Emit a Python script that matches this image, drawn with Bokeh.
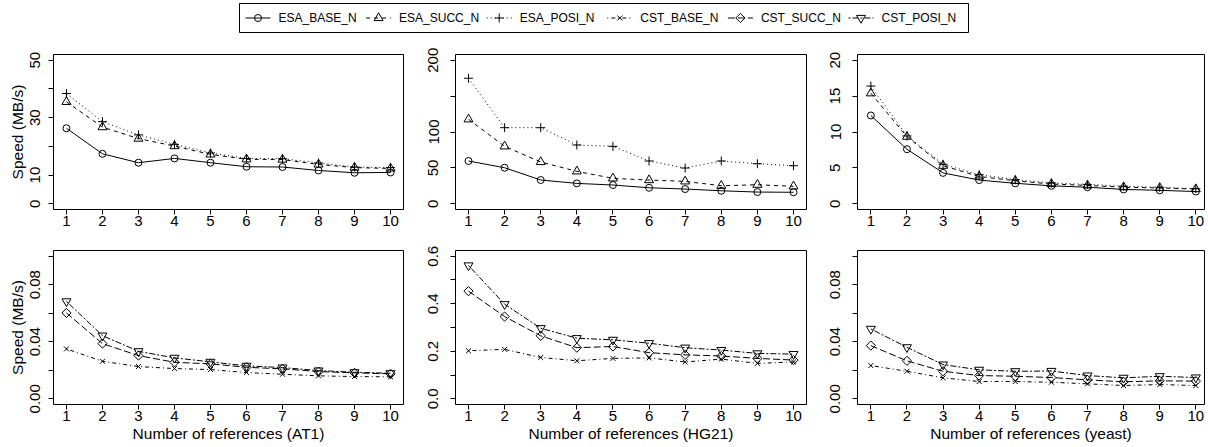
import math
from bokeh.plotting import figure
from bokeh.layouts import column, row
from bokeh.models import Range1d, FixedTicker
from bokeh.core.properties import value
from bokeh.embed import file_html
from bokeh.resources import INLINE

refs = [1, 2, 3, 4, 5, 6, 7, 8, 9, 10]

# Top row: ESA variants
at1_esa_base = [26.3, 17.4, 14.3, 15.8, 14.3, 12.9, 12.8, 11.6, 10.8, 10.9]
at1_esa_succ = [35.5, 26.7, 22.7, 20.1, 17.2, 15.5, 15.4, 13.7, 12.6, 12.3]
at1_esa_posi = [38.4, 28.6, 24.0, 20.7, 17.7, 15.8, 15.7, 14.2, 12.8, 12.6]

hg21_esa_base = [59.6, 50.2, 33.1, 28.4, 26.1, 22.3, 20.5, 18.1, 16.3, 16.0]
hg21_esa_succ = [117.7, 80.0, 58.2, 45.2, 35.4, 33.0, 31.2, 25.1, 26.5, 24.3]
hg21_esa_posi = [174.9, 106.0, 106.0, 81.9, 80.0, 59.6, 49.8, 59.6, 55.8, 53.0]

yeast_esa_base = [12.3, 7.6, 4.3, 3.3, 2.85, 2.5, 2.3, 2.0, 1.87, 1.7]
yeast_esa_succ = [15.4, 9.35, 5.3, 3.8, 3.2, 2.75, 2.55, 2.3, 2.2, 2.05]
yeast_esa_posi = [16.4, 9.45, 5.5, 4.05, 3.35, 2.9, 2.7, 2.45, 2.3, 2.1]

# Bottom row: CST variants
at1_cst_base = [0.0350, 0.0263, 0.0226, 0.0212, 0.0205, 0.0184, 0.0172, 0.0161, 0.0156, 0.0154]
at1_cst_succ = [0.0602, 0.0387, 0.0303, 0.0256, 0.0245, 0.0221, 0.0210, 0.0191, 0.0182, 0.0175]
at1_cst_posi = [0.0683, 0.0443, 0.0333, 0.0287, 0.0259, 0.0231, 0.0219, 0.0198, 0.0186, 0.0179]

hg21_cst_base = [0.202, 0.208, 0.174, 0.160, 0.170, 0.172, 0.155, 0.167, 0.149, 0.155]
hg21_cst_succ = [0.453, 0.346, 0.265, 0.215, 0.220, 0.194, 0.185, 0.180, 0.170, 0.163]
hg21_cst_posi = [0.561, 0.398, 0.297, 0.255, 0.248, 0.234, 0.215, 0.205, 0.191, 0.188]

yeast_cst_base = [0.0233, 0.0193, 0.0147, 0.0121, 0.0121, 0.0116, 0.0105, 0.0093, 0.0100, 0.0093]
yeast_cst_succ = [0.0373, 0.0266, 0.0193, 0.0163, 0.0158, 0.0149, 0.0133, 0.0119, 0.0126, 0.0124]
yeast_cst_posi = [0.0490, 0.0361, 0.0240, 0.0203, 0.0193, 0.0195, 0.0163, 0.0147, 0.0158, 0.0149]

series_names = ["ESA_BASE_N", "ESA_SUCC_N", "ESA_POSI_N", "CST_BASE_N", "CST_SUCC_N", "CST_POSI_N"]
dataset_names = ["AT1", "HG21", "yeast"]

top_ticks = [[0, 10, 20, 30, 40, 50], [0, 50, 100, 150, 200], [0, 5, 10, 15, 20]]
top_tick_labels = [["0", "10", "", "30", "", "50"], ["0", "50", "100", "", "200"], ["0", "5", "10", "15", "20"]]
bot_ticks = [[0, 0.02, 0.04, 0.06, 0.08, 0.1], [0, 0.1, 0.2, 0.3, 0.4, 0.5, 0.6], [0, 0.02, 0.04, 0.06, 0.08, 0.1]]
bot_tick_labels = [["0.00", "", "0.04", "", "0.08", ""], ["0.0", "", "0.2", "", "0.4", "", "0.6"], ["0.00", "", "0.04", "", "0.08", ""]]

STYLE = {
    "ESA_BASE_N": dict(dash="solid", marker="circle", size=7, angle=0.0),
    "ESA_SUCC_N": dict(dash="4 4", marker="triangle", size=9, angle=0.0),
    "ESA_POSI_N": dict(dash="1 3", marker="cross", size=9, angle=0.0),
    "CST_BASE_N": dict(dash="1 3 4 3", marker="x", size=7, angle=0.0),
    "CST_SUCC_N": dict(dash="7 3", marker="square", size=6.5, angle=math.pi / 4),
    "CST_POSI_N": dict(dash="2 2 6 2", marker="inverted_triangle", size=9, angle=0.0),
}

FONT = "Liberation Sans"

cols = [
    dict(width=425, left=53, right=22, xr=(0.64, 10.36), standoff=8),
    dict(width=402, left=30, right=21, xr=(0.64, 10.36), standoff=12),
    dict(width=381, left=30, right=4, xr=(0.63, 10.24), standoff=12),
]


def draw_series(p, name, xs, ys):
    st = STYLE[name]
    p.line(xs, ys, line_color="black", line_width=1, line_dash=st["dash"])
    p.scatter(xs, ys, marker=st["marker"], size=st["size"], angle=st["angle"],
              line_color="black", line_width=1, fill_color=None)


def panel(c, height, top, bottom, ticks, labels, yr, series, xlabel=None, ylabel=None):
    p = figure(width=c["width"], height=height, x_range=Range1d(*c["xr"]), y_range=Range1d(*yr),
               output_backend="svg", toolbar_location=None,
               min_border_left=c["left"], min_border_right=c["right"],
               min_border_top=top, min_border_bottom=bottom)
    p.grid.visible = False
    p.outline_line_color = "black"
    p.outline_line_width = 1
    p.background_fill_color = "white"
    p.border_fill_color = "white"
    for ax in (p.xaxis[0], p.yaxis[0]):
        ax.axis_line_color = None
        ax.major_tick_line_color = "black"
        ax.major_tick_in = 0
        ax.major_tick_out = 5
        ax.minor_tick_line_color = None
        ax.major_label_text_font = FONT
        ax.major_label_text_font_size = "15px"
        ax.major_label_text_color = "black"
        ax.axis_label_text_font = FONT
        ax.axis_label_text_font_size = "15.5px"
        ax.axis_label_text_font_style = "normal"
        ax.axis_label_text_color = "black"
    p.xaxis[0].ticker = FixedTicker(ticks=refs)
    p.xaxis[0].major_label_standoff = 1
    p.xaxis[0].axis_label_standoff = 1
    p.yaxis[0].ticker = FixedTicker(ticks=ticks)
    p.yaxis[0].major_label_overrides = {t: l for t, l in zip(ticks, labels)}
    p.yaxis[0].major_label_orientation = "vertical"
    p.yaxis[0].major_label_standoff = c["standoff"]
    p.yaxis[0].axis_label_standoff = 2
    if xlabel:
        p.xaxis[0].axis_label = xlabel
    if ylabel:
        p.yaxis[0].axis_label = ylabel
    for name, ys in series:
        draw_series(p, name, refs, ys)
    return p


def rng(ticks):
    lo, hi = ticks[0], ticks[-1]
    d = (hi - lo) * 0.04
    return (lo - d, hi + d)


top_data = [
    [("ESA_BASE_N", at1_esa_base), ("ESA_SUCC_N", at1_esa_succ), ("ESA_POSI_N", at1_esa_posi)],
    [("ESA_BASE_N", hg21_esa_base), ("ESA_SUCC_N", hg21_esa_succ), ("ESA_POSI_N", hg21_esa_posi)],
    [("ESA_BASE_N", yeast_esa_base), ("ESA_SUCC_N", yeast_esa_succ), ("ESA_POSI_N", yeast_esa_posi)],
]
bot_data = [
    [("CST_BASE_N", at1_cst_base), ("CST_SUCC_N", at1_cst_succ), ("CST_POSI_N", at1_cst_posi)],
    [("CST_BASE_N", hg21_cst_base), ("CST_SUCC_N", hg21_cst_succ), ("CST_POSI_N", hg21_cst_posi)],
    [("CST_BASE_N", yeast_cst_base), ("CST_SUCC_N", yeast_cst_succ), ("CST_POSI_N", yeast_cst_posi)],
]

top_row = []
bot_row = []
for i in range(3):
    top_row.append(panel(cols[i], 194, 14, 25, top_ticks[i], top_tick_labels[i], rng(top_ticks[i]),
                         top_data[i], ylabel="Speed (MB/s)" if i == 0 else None))
    bot_row.append(panel(cols[i], 213, 16, 43, bot_ticks[i], bot_tick_labels[i], rng(bot_ticks[i]),
                         bot_data[i], xlabel="Number of references (%s)" % dataset_names[i],
                         ylabel="Speed (MB/s)" if i == 0 else None))

# Legend strip (pixel-space figure, legend drawn as a key)
LEG_W, LEG_H = 1208, 40
LEG_LEFT, LEG_RIGHT, LEG_TOP, LEG_BOTTOM = 239, 968, 3, 32
TEXT0, STEP = 278, 120.6
lf = figure(width=LEG_W, height=LEG_H, x_range=Range1d(0, LEG_W), y_range=Range1d(LEG_H, 0),
            x_axis_type=None, y_axis_type=None, min_border=0,
            output_backend="svg", toolbar_location=None)
lf.grid.visible = False
lf.outline_line_color = None
lf.background_fill_color = "white"
lf.border_fill_color = "white"
lf.quad(left=[LEG_LEFT], right=[LEG_RIGHT], top=[LEG_TOP], bottom=[LEG_BOTTOM],
        fill_color="white", line_color="black", line_width=1)
ymid = (LEG_TOP + LEG_BOTTOM) / 2
for i, name in enumerate(series_names):
    st = STYLE[name]
    tx = TEXT0 + STEP * i
    lf.segment(x0=[tx - 33], x1=[tx - 8], y0=[ymid], y1=[ymid],
               line_color="black", line_width=1, line_dash=st["dash"])
    lf.scatter([tx - 20.5], [ymid], marker=st["marker"], size=st["size"], angle=st["angle"],
               line_color="black", line_width=1, fill_color=None)
    lf.text([tx], [ymid], text=[name], text_font=value(FONT), text_font_size="12px",
            text_baseline="middle", text_align="left", text_color="black")

layout = column(lf, row(*top_row), row(*bot_row))

open("out.html", "w").write(file_html(layout, INLINE))
